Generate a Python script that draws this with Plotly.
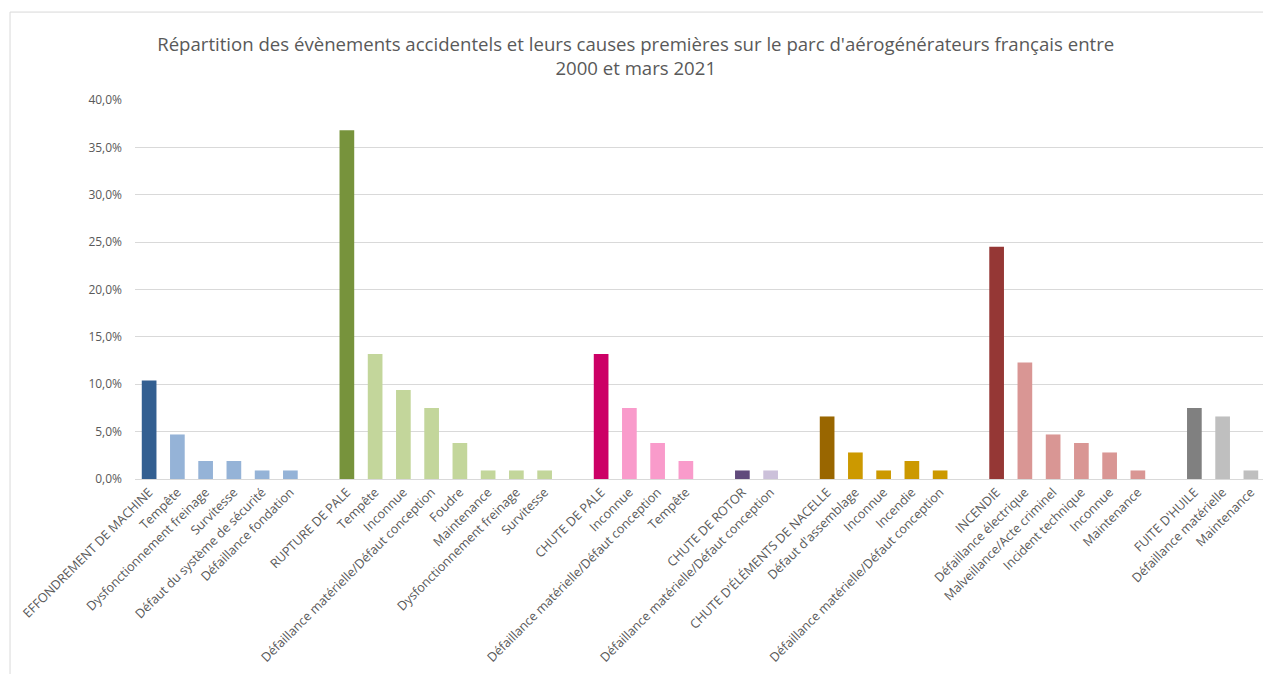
import plotly.graph_objects as go

# Data (share of events, %), groups separated by empty slots
groups = [
    ["EFFONDREMENT DE MACHINE", "Tempête", "Dysfonctionnement freinage", "Survitesse",
     "Défaut du système de sécurité", "Défaillance fondation"],
    ["RUPTURE DE PALE", "Tempête", "Inconnue", "Défaillance matérielle/Défaut conception",
     "Foudre", "Maintenance", "Dysfonctionnement freinage", "Survitesse"],
    ["CHUTE DE PALE", "Inconnue", "Défaillance matérielle/Défaut conception", "Tempête"],
    ["CHUTE DE ROTOR", "Défaillance matérielle/Défaut conception"],
    ["CHUTE D'ÉLÉMENTS DE NACELLE", "Défaut d'assemblage", "Inconnue", "Incendie",
     "Défaillance matérielle/Défaut conception"],
    ["INCENDIE", "Défaillance électrique", "Malveillance/Acte criminel", "Incident technique",
     "Inconnue", "Maintenance"],
    ["FUITE D'HUILE", "Défaillance matérielle", "Maintenance"],
]
values = [
    [10.4, 4.7, 1.9, 1.9, 0.9, 0.9],
    [36.8, 13.2, 9.4, 7.5, 3.8, 0.9, 0.9, 0.9],
    [13.2, 7.5, 3.8, 1.9],
    [0.9, 0.9],
    [6.6, 2.8, 0.9, 1.9, 0.9],
    [24.5, 12.3, 4.7, 3.8, 2.8, 0.9],
    [7.5, 6.6, 0.9],
]
main_colors = ["#335F91", "#77933C", "#CC0066", "#604A7B", "#996600", "#953735", "#808080"]
sub_colors = ["#95B3D7", "#C3D69B", "#F99BCB", "#CCC1DA", "#CC9900", "#D99694", "#BFBFBF"]
y_ticks = [0, 5, 10, 15, 20, 25, 30, 35, 40]
y_ticktext = [f"{v:.1f}%".replace(".", ",") for v in y_ticks]

xs, ys, cols, labels = [], [], [], []
pos = 0
for gi, (labs, vals) in enumerate(zip(groups, values)):
    for i, (l, v) in enumerate(zip(labs, vals)):
        xs.append(pos)
        ys.append(v)
        labels.append(l)
        cols.append(main_colors[gi] if i == 0 else sub_colors[gi])
        pos += 1
    pos += 1  # gap slot
n_slots = pos - 1

fig = go.Figure(go.Bar(x=xs, y=ys, marker=dict(color=cols, line=dict(width=0)), width=0.52,
                       hoverinfo="x+y"))

fig.update_layout(
    width=1263, height=666,
    margin=dict(l=127, r=6, t=92, b=195, autoexpand=False),
    paper_bgcolor="white", plot_bgcolor="white",
    separators=",.",
    showlegend=False,
    font=dict(family="Open Sans, Liberation Sans, sans-serif", color="#595959", size=12),
    title=dict(
        text="Répartition des évènements accidentels et leurs causes premières sur le parc d'aérogénérateurs français entre<br>2000 et mars 2021",
        x=0.497, xref="container", xanchor="center",
        y=0.936, yref="container", yanchor="top",
        font=dict(size=18.6, color="#595959"),
    ),
    xaxis=dict(
        range=[-0.5, n_slots - 0.5],
        tickmode="array", tickvals=xs, ticktext=labels,
        tickangle=-45, showgrid=False, zeroline=False,
        showline=True, linecolor="#D9D9D9", linewidth=1,
        ticks="", tickfont=dict(size=12.6, color="#595959"),
        automargin=False,
    ),
    yaxis=dict(
        range=[0, 40], tickmode="array", tickvals=y_ticks, ticktext=y_ticktext,
        showgrid=True, gridcolor="#D9D9D9", gridwidth=1,
        zeroline=False, showline=False, ticks="",
        ticklabelstandoff=12, automargin=False,
        tickfont=dict(size=12, color="#595959"),
    ),
    shapes=[dict(type="rect", xref="paper", yref="paper",
                 x0=-0.1106, x1=1.2, y0=-1.0, y1=1.232,
                 line=dict(color="#D9D9D9", width=1), fillcolor="rgba(0,0,0,0)", layer="below")],
)

fig.write_html("out.html")
